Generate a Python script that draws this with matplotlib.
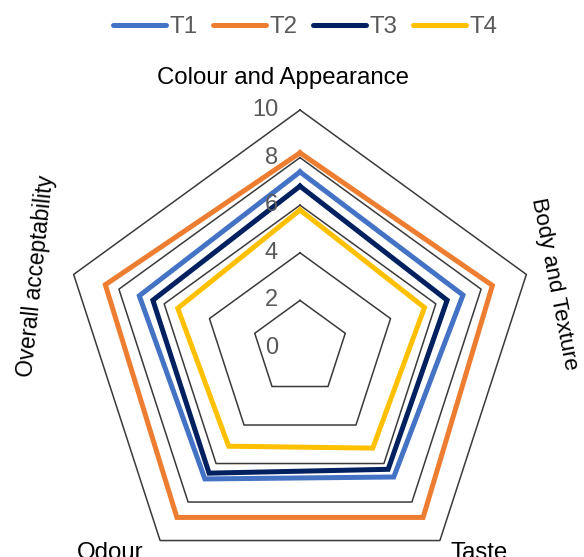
import numpy as np
import matplotlib.pyplot as plt
from matplotlib.lines import Line2D

plt.rcParams['font.family'] = ['Liberation Sans', 'DejaVu Sans']

# sensory scores per attribute (clockwise from the top)
attributes = ["Colour and Appearance", "Body and Texture", "Taste", "Odour", "Overall acceptability"]
t1 = [7.4, 7.2, 6.7, 6.8, 7.1]
t2 = [8.2, 8.5, 8.8, 8.8, 8.6]
t3 = [6.8, 6.5, 6.3, 6.5, 6.5]
t4 = [5.8, 5.5, 5.2, 5.1, 5.4]
series_names = ["T1", "T2", "T3", "T4"]
colors = ["#4472C4", "#ED7D31", "#002060", "#FFC000"]
grid_levels = [0, 2, 4, 6, 8, 10]

W, H = 584, 557
fig = plt.figure(figsize=(W / 100, H / 100), dpi=100)
cx, cy, R = 300, H - 348, 238
ax = fig.add_axes([(cx - R) / W, (cy - R) / H, 2 * R / W, 2 * R / H], projection="polar")
ax.set_theta_offset(np.pi / 2)
ax.set_theta_direction(-1)
ax.set_ylim(0, 10)
ax.set_xticks([])
ax.set_yticks([])
ax.grid(False)
ax.spines["polar"].set_visible(False)
ax.patch.set_visible(False)

angles = np.linspace(0, 2 * np.pi, len(attributes), endpoint=False)
closed = np.append(angles, angles[0])

# pentagon gridlines
for lvl in grid_levels[1:]:
    ax.plot(closed, [lvl] * len(closed), color="#3a3a3a", lw=1.1, zorder=1, clip_on=False)

for vals, name, c in zip([t1, t2, t3, t4], series_names, colors):
    ax.plot(closed, vals + vals[:1], color=c, lw=3.6, solid_joinstyle="miter",
            zorder=3, clip_on=False)

# value labels along the top axis
for lvl in grid_levels:
    ax.annotate(str(lvl), xy=(0, lvl), xytext=(-22, 0), textcoords="offset pixels",
                ha="right", va="center", fontsize=17, color="#595959")

# category labels: (dx, dy, rotation, size)
offsets = [(-17, 32, 0, 17.3), (28, -10, -79, 16.2), (39, -12, 0, 17.3),
           (-50, -12, 0, 17.3), (-37, -2, 84, 16.3)]
for ang, lab, (dx, dy, rot, fs) in zip(angles, attributes, offsets):
    ax.annotate(lab, xy=(ang, 10), xytext=(dx, dy), textcoords="offset pixels",
                ha="center", va="center", rotation=rot, rotation_mode="anchor",
                fontsize=fs, color="black", annotation_clip=False)

handles = [Line2D([], [], color=c, lw=3.6, solid_capstyle="round") for c in colors]
fig.legend(handles, series_names, loc="center", bbox_to_anchor=(305 / W, 1 - 27 / H),
           ncol=4, frameon=False, fontsize=17.3, handlelength=2.2, handletextpad=0.15,
           columnspacing=0.65, labelcolor="#595959")

fig.savefig("out.png", dpi=100)
